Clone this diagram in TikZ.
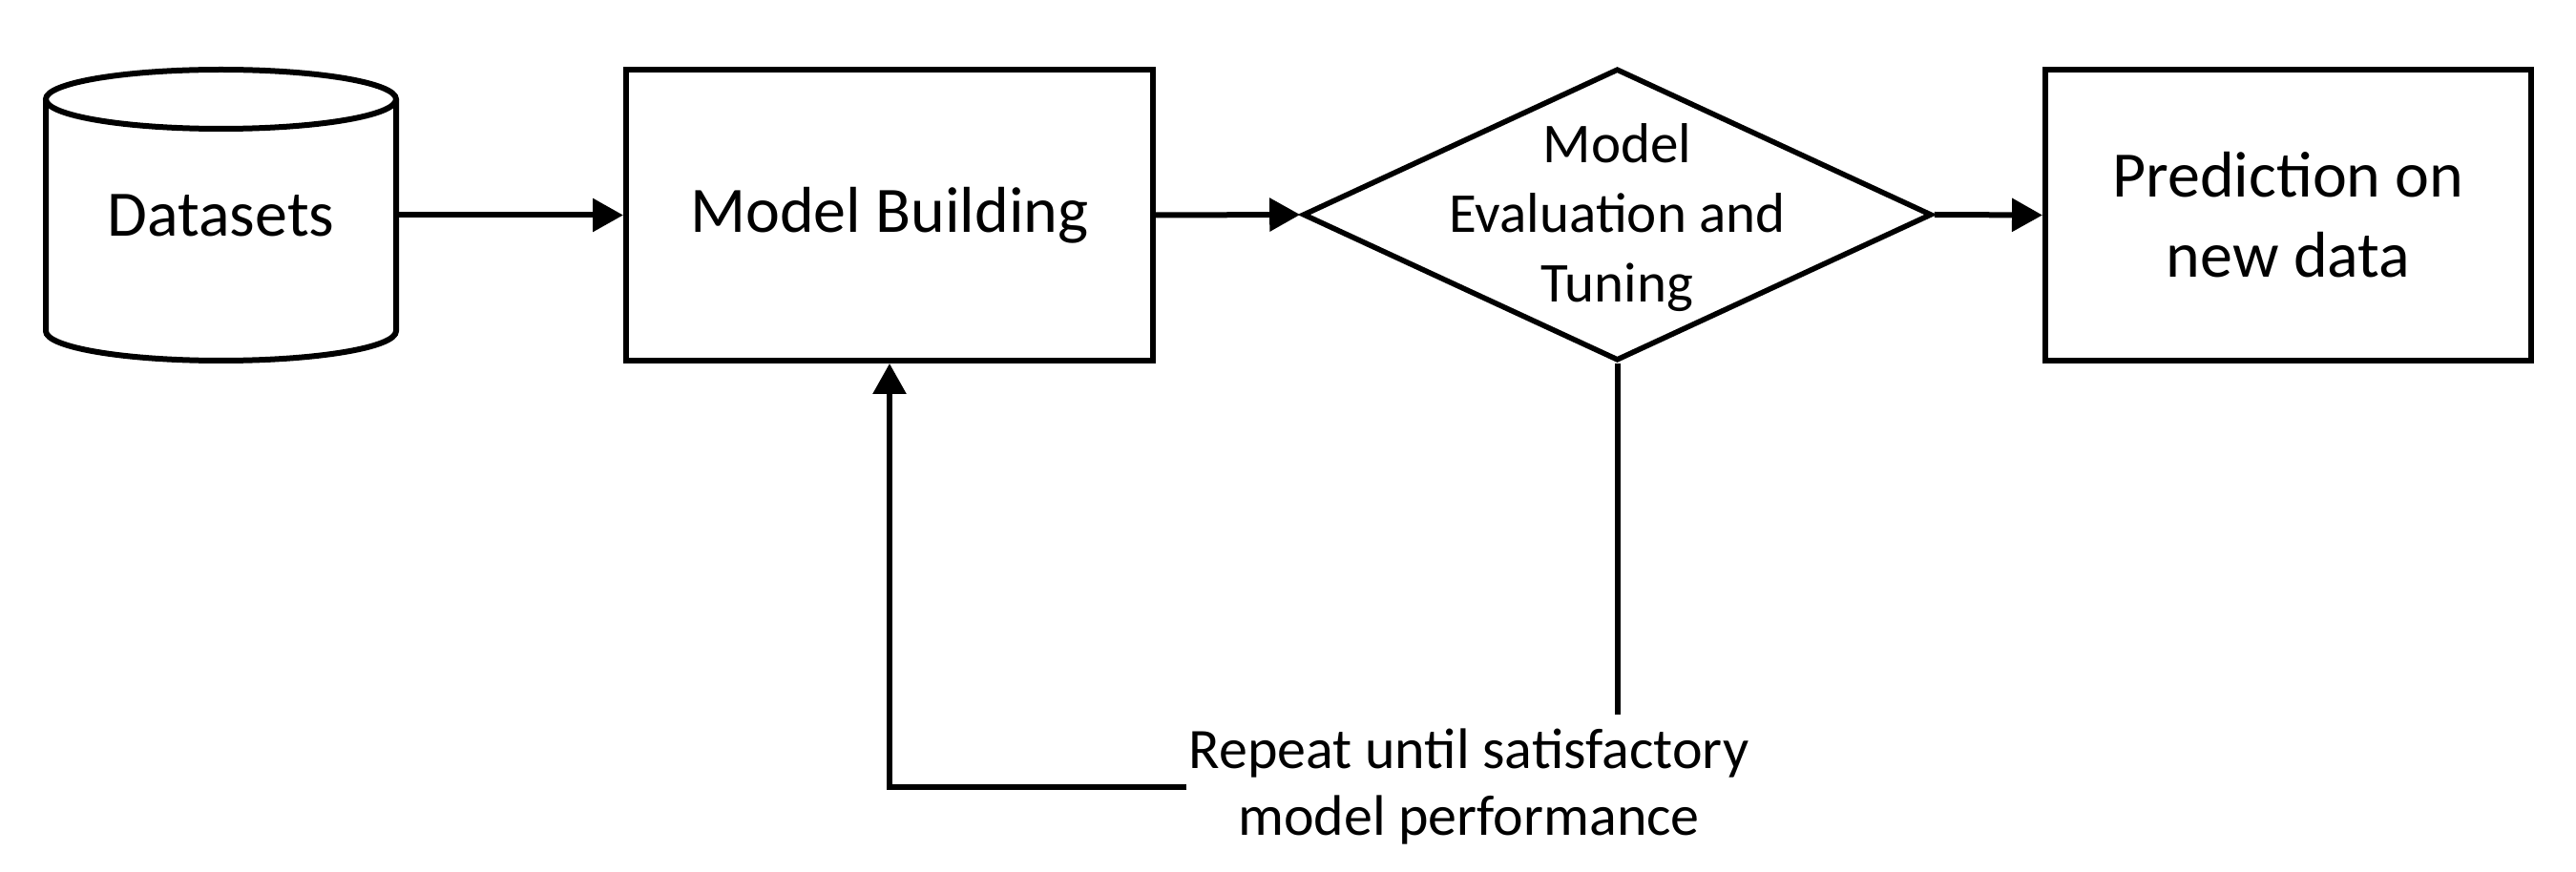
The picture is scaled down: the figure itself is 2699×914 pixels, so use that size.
\documentclass[tikz,border=0pt]{standalone}
\usepackage{fontspec}
\setmainfont{Carlito}
\usetikzlibrary{arrows.meta,shapes.geometric}
\begin{document}
\begin{tikzpicture}[x=0.5pt,y=-0.5pt,
  stroke/.style={line width=3pt},
  boxnode/.style={draw,stroke,rectangle,inner sep=0pt,align=center,font=\fontsize{34}{42}\selectfont},
  conn/.style={line width=3pt,-{Triangle[length=16pt,width=17pt]}},
  plain/.style={line width=3pt},
]
\useasboundingbox (0,0) rectangle (2699,914);
% cylinder
\draw[stroke] (231.5,104) ellipse [x radius=183.5, y radius=31];
\draw[stroke] (48,104) -- (48,347) .. controls (48,364.12) and (130.15,378) .. (231.5,378) .. controls (332.85,378) and (415,364.12) .. (415,347) -- (415,104);
\node[inner sep=0pt, minimum width=183.5pt, minimum height=152.5pt, font=\fontsize{34}{42}\selectfont] (data) at (231.5,225.5) {Datasets};
% boxes
\node[boxnode, minimum width=276pt, minimum height=152.5pt] (build) at (932,225.5) {Model Building};
\node[diamond, draw, line width=2.8pt, aspect=2.15, minimum width=329.5pt, minimum height=153pt, inner sep=0pt] (eval) at (1694.5,225) {};
\node[align=center, font=\fontsize{29.5}{36.5}\selectfont, inner sep=0pt] (evaltext) at (1694.5,228) {Model\\Evaluation and\\Tuning};
\node[boxnode, minimum width=254.5pt, minimum height=152.5pt] (pred) at (2397.5,225.5) {Prediction on\\new data};
\node[align=center, font=\fontsize{30}{35}\selectfont, inner xsep=1pt, inner ysep=7pt] (note) at (1539,824.5) {Repeat until satisfactory\\model performance};
% connectors
\draw[conn] (data.east) -- (build.west);
\draw[conn] (build.east) -- (eval.west);
\draw[conn] (eval.east) -- (pred.west);
\draw[plain] (eval.south) -- (eval.south |- note.north);
\draw[conn] (note.west) -| (build.south);
\end{tikzpicture}
\end{document}
